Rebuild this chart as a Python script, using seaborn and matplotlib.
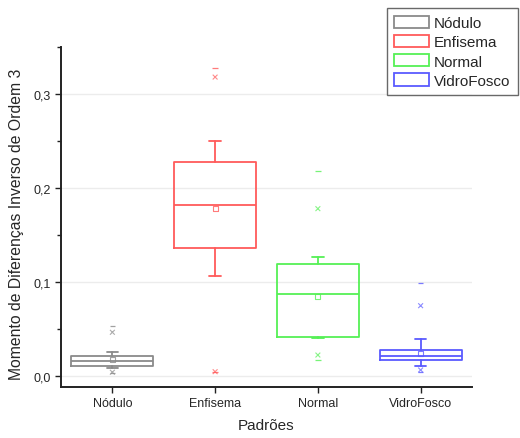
import matplotlib
matplotlib.use("Agg")
import matplotlib.pyplot as plt
import seaborn as sns
from matplotlib.patches import Patch
from matplotlib.ticker import MultipleLocator, FuncFormatter

categories = ["Nódulo", "Enfisema", "Normal", "VidroFosco"]
q1 = [0.011, 0.136, 0.041, 0.0174]
median = [0.016, 0.182, 0.087, 0.0216]
q3 = [0.0216, 0.228, 0.119, 0.0273]
whisker_low = [0.0088, 0.1067, 0.040, 0.011]
whisker_high = [0.026, 0.250, 0.127, 0.039]
mean = [0.0174, 0.178, 0.0844, 0.024]
p1 = [0.004, 0.0046, 0.0223, 0.0064]
p99 = [0.0465, 0.318, 0.178, 0.0748]
vmin = [0.003, 0.004, 0.0174, 0.004]
vmax = [0.053, 0.328, 0.218, 0.099]
colors = ["#8a8a8a", "#ff5a5a", "#55f055", "#5a5aff"]

sns.set_style("white")
plt.rcParams['font.family'] = ['Liberation Sans', 'DejaVu Sans']

fig = plt.figure(figsize=(5.2, 4.39), dpi=100)
ax = fig.add_axes([61/520, 1-388/439, (472-61)/520, (388-48)/439])

positions = list(range(len(categories)))
stats = []
for i, c in enumerate(categories):
    stats.append(dict(label=c, med=median[i], q1=q1[i], q3=q3[i],
                      whislo=whisker_low[i], whishi=whisker_high[i],
                      mean=mean[i], fliers=[]))
bp = ax.bxp(stats, positions=positions, widths=0.8, showmeans=False,
            showfliers=False, capwidths=0.11)
for i, col in enumerate(colors):
    for art in [bp['boxes'][i], bp['medians'][i], bp['whiskers'][2*i],
                bp['whiskers'][2*i+1], bp['caps'][2*i], bp['caps'][2*i+1]]:
        art.set_color(col)
        art.set_linewidth(1.3)

ax.scatter(positions, mean, marker='s', s=12, facecolors='none',
           edgecolors=colors, linewidths=0.8, alpha=0.8, zorder=3)
sns.scatterplot(x=positions + positions, y=p1 + p99,
                hue=categories + categories, palette=colors, marker='x',
                s=12, linewidth=0.8, alpha=0.7, legend=False, ax=ax, zorder=3)
sns.scatterplot(x=positions + positions, y=vmin + vmax,
                hue=categories + categories, palette=colors, marker='_',
                s=16, linewidth=0.9, alpha=0.8, legend=False, ax=ax, zorder=3)

ax.set_xlim(-0.5, 3.5)
ax.set_ylim(-0.0117, 0.35)
ax.set_xticks(positions)
ax.set_xticklabels(categories, fontsize=9)
ax.yaxis.set_major_locator(MultipleLocator(0.1))
ax.yaxis.set_minor_locator(MultipleLocator(0.05))
ax.yaxis.set_major_formatter(FuncFormatter(lambda v, p: f"{v:.1f}".replace('.', ',')))
ax.tick_params(axis='y', labelsize=9)
ax.tick_params(which='both', direction='out', length=4, width=1, color='#222222',
               left=True, bottom=True)
ax.tick_params(which='minor', length=3)
ax.grid(axis='y', color='#ececec', linewidth=1)
ax.set_axisbelow(True)
for s in ['top', 'right']:
    ax.spines[s].set_visible(False)
for s in ['left', 'bottom']:
    ax.spines[s].set_color('#222222')
    ax.spines[s].set_linewidth(1.4)
ax.set_xlabel("Padrões", fontsize=11, labelpad=6)
ax.set_ylabel("Momento de Diferenças Inverso de Ordem 3", fontsize=11.3)
ax.yaxis.set_label_coords(-0.09, 0.482)

handles = [Patch(facecolor='white', edgecolor=c, linewidth=1.3) for c in colors]
leg = fig.legend(handles, categories, loc='upper right',
                 bbox_to_anchor=(518/520, 1-9/439), fontsize=11,
                 frameon=True, fancybox=False, edgecolor='#444444',
                 handlelength=2.3, handleheight=0.85, handletextpad=0.3,
                 labelspacing=0.32, borderpad=0.5, borderaxespad=0)
leg.get_frame().set_linewidth(1.0)

fig.savefig("out.png", dpi=100)
